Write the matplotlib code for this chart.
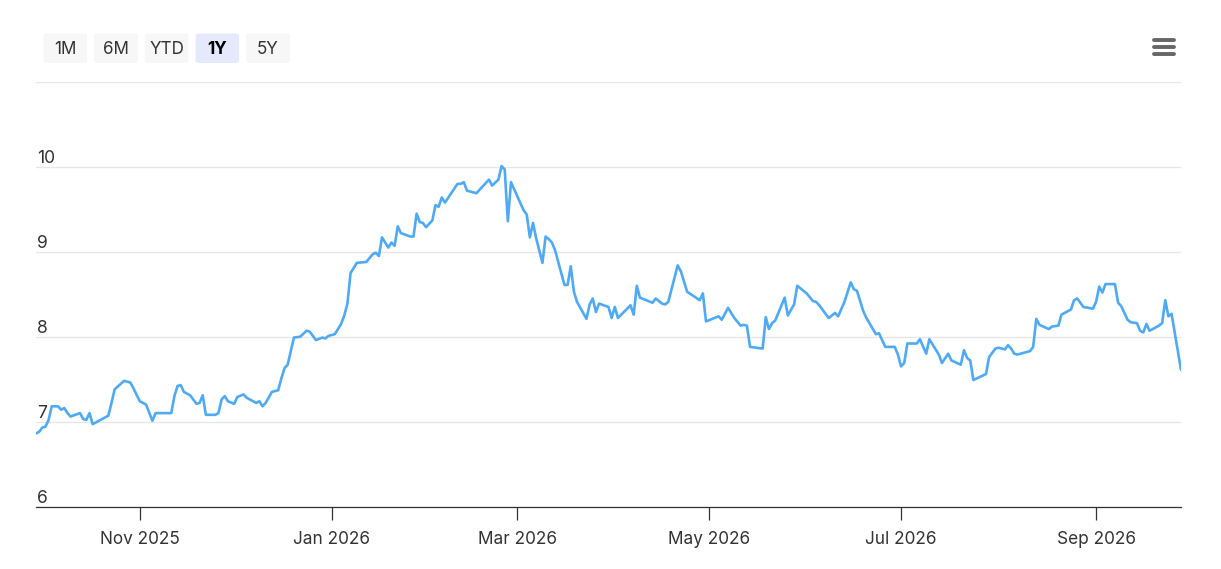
import matplotlib
matplotlib.use("Agg")
import matplotlib.pyplot as plt
import matplotlib.dates as mdates
import matplotlib.transforms as mtransforms
from matplotlib.patches import FancyBboxPatch
from matplotlib.lines import Line2D
import pandas as pd

# ---------------- data ----------------
dates = [
    "2025-09-29", "2025-09-30", "2025-10-01", "2025-10-02", "2025-10-03", "2025-10-04",
    "2025-10-06", "2025-10-07", "2025-10-08", "2025-10-09", "2025-10-10", "2025-10-13",
    "2025-10-14", "2025-10-15", "2025-10-16", "2025-10-17", "2025-10-22", "2025-10-23",
    "2025-10-24", "2025-10-27", "2025-10-29", "2025-10-30", "2025-11-01", "2025-11-03",
    "2025-11-05", "2025-11-06", "2025-11-11", "2025-11-12", "2025-11-13", "2025-11-14",
    "2025-11-15", "2025-11-17", "2025-11-19", "2025-11-20", "2025-11-21", "2025-11-22",
    "2025-11-25", "2025-11-26", "2025-11-27", "2025-11-28", "2025-11-29", "2025-12-01",
    "2025-12-02", "2025-12-04", "2025-12-05", "2025-12-08", "2025-12-09", "2025-12-10",
    "2025-12-11", "2025-12-13", "2025-12-15", "2025-12-16", "2025-12-17", "2025-12-18",
    "2025-12-20", "2025-12-22", "2025-12-24", "2025-12-25", "2025-12-27", "2025-12-29",
    "2025-12-30", "2025-12-31", "2026-01-02", "2026-01-04", "2026-01-05", "2026-01-06",
    "2026-01-07", "2026-01-09", "2026-01-12", "2026-01-14", "2026-01-15", "2026-01-16",
    "2026-01-17", "2026-01-19", "2026-01-20", "2026-01-21", "2026-01-22", "2026-01-23",
    "2026-01-26", "2026-01-27", "2026-01-28", "2026-01-29", "2026-01-30", "2026-01-31",
    "2026-02-02", "2026-02-03", "2026-02-04", "2026-02-05", "2026-02-06", "2026-02-10",
    "2026-02-11", "2026-02-12", "2026-02-13", "2026-02-16", "2026-02-20", "2026-02-21",
    "2026-02-23", "2026-02-24", "2026-02-25", "2026-02-26", "2026-02-27", "2026-03-03",
    "2026-03-04", "2026-03-05", "2026-03-06", "2026-03-07", "2026-03-09", "2026-03-10",
    "2026-03-11", "2026-03-12", "2026-03-13", "2026-03-16", "2026-03-17", "2026-03-18",
    "2026-03-19", "2026-03-20", "2026-03-23", "2026-03-24", "2026-03-25", "2026-03-26",
    "2026-03-27", "2026-03-30", "2026-03-31", "2026-04-01", "2026-04-02", "2026-04-06",
    "2026-04-07", "2026-04-08", "2026-04-09", "2026-04-13", "2026-04-14", "2026-04-16",
    "2026-04-17", "2026-04-18", "2026-04-21", "2026-04-22", "2026-04-24", "2026-04-28",
    "2026-04-29", "2026-04-30", "2026-05-04", "2026-05-05", "2026-05-07", "2026-05-09",
    "2026-05-11", "2026-05-12", "2026-05-13", "2026-05-14", "2026-05-18", "2026-05-19",
    "2026-05-20", "2026-05-21", "2026-05-22", "2026-05-25", "2026-05-26", "2026-05-28",
    "2026-05-29", "2026-06-01", "2026-06-03", "2026-06-04", "2026-06-05", "2026-06-08",
    "2026-06-10", "2026-06-11", "2026-06-13", "2026-06-15", "2026-06-16", "2026-06-17",
    "2026-06-19", "2026-06-20", "2026-06-23", "2026-06-24", "2026-06-26", "2026-06-29",
    "2026-06-30", "2026-07-01", "2026-07-02", "2026-07-03", "2026-07-06", "2026-07-07",
    "2026-07-09", "2026-07-10", "2026-07-13", "2026-07-14", "2026-07-16", "2026-07-17",
    "2026-07-20", "2026-07-21", "2026-07-22", "2026-07-23", "2026-07-24", "2026-07-28",
    "2026-07-29", "2026-07-31", "2026-08-01", "2026-08-03", "2026-08-04", "2026-08-05",
    "2026-08-06", "2026-08-07", "2026-08-11", "2026-08-12", "2026-08-13", "2026-08-14",
    "2026-08-17", "2026-08-18", "2026-08-20", "2026-08-21", "2026-08-24", "2026-08-25",
    "2026-08-26", "2026-08-28", "2026-08-31", "2026-09-01", "2026-09-02", "2026-09-03",
    "2026-09-04", "2026-09-07", "2026-09-08", "2026-09-09", "2026-09-11", "2026-09-12",
    "2026-09-14", "2026-09-15", "2026-09-16", "2026-09-17", "2026-09-18", "2026-09-21",
    "2026-09-22", "2026-09-23", "2026-09-24", "2026-09-25", "2026-09-28",
]

values = [
    6.86, 6.88, 6.93, 6.94, 7.02, 7.18,
    7.18, 7.14, 7.16, 7.10, 7.06, 7.10,
    7.03, 7.02, 7.10, 6.97, 7.07, 7.22,
    7.38, 7.48, 7.46, 7.39, 7.24, 7.20,
    7.01, 7.10, 7.10, 7.30, 7.42, 7.43,
    7.35, 7.31, 7.21, 7.22, 7.31, 7.08,
    7.08, 7.10, 7.26, 7.30, 7.24, 7.21,
    7.29, 7.32, 7.28, 7.22, 7.24, 7.18,
    7.22, 7.35, 7.37, 7.51, 7.63, 7.67,
    7.99, 8.00, 8.07, 8.06, 7.96, 7.99,
    7.98, 8.01, 8.03, 8.15, 8.25, 8.39,
    8.75, 8.87, 8.88, 8.97, 8.99, 8.95,
    9.17, 9.05, 9.11, 9.07, 9.30, 9.22,
    9.18, 9.18, 9.45, 9.35, 9.34, 9.29,
    9.37, 9.55, 9.53, 9.64, 9.58, 9.80,
    9.80, 9.82, 9.72, 9.69, 9.85, 9.78,
    9.85, 10.01, 9.97, 9.36, 9.82, 9.49,
    9.44, 9.17, 9.34, 9.16, 8.87, 9.18,
    9.15, 9.11, 9.02, 8.61, 8.61, 8.83,
    8.53, 8.41, 8.21, 8.38, 8.45, 8.29,
    8.39, 8.35, 8.22, 8.35, 8.22, 8.37,
    8.26, 8.60, 8.46, 8.40, 8.45, 8.39,
    8.38, 8.41, 8.84, 8.77, 8.53, 8.43,
    8.51, 8.18, 8.24, 8.20, 8.34, 8.22,
    8.13, 8.14, 8.13, 7.88, 7.86, 8.23,
    8.09, 8.16, 8.19, 8.46, 8.25, 8.38,
    8.60, 8.51, 8.42, 8.41, 8.37, 8.22,
    8.28, 8.24, 8.41, 8.64, 8.56, 8.54,
    8.30, 8.22, 8.03, 8.04, 7.88, 7.88,
    7.79, 7.65, 7.69, 7.92, 7.92, 7.97,
    7.80, 7.97, 7.79, 7.69, 7.80, 7.72,
    7.67, 7.84, 7.75, 7.72, 7.49, 7.56,
    7.76, 7.86, 7.87, 7.85, 7.90, 7.86,
    7.80, 7.79, 7.83, 7.88, 8.21, 8.14,
    8.09, 8.12, 8.13, 8.26, 8.32, 8.43,
    8.45, 8.35, 8.33, 8.41, 8.59, 8.52,
    8.62, 8.62, 8.40, 8.36, 8.20, 8.17,
    8.16, 8.07, 8.05, 8.15, 8.07, 8.13,
    8.16, 8.43, 8.24, 8.27, 7.61,
]

y_ticks = [6, 7, 8, 9, 10, 11]
y_tick_labels = ["6", "7", "8", "9", "10", ""]
x_tick_dates = ["2025-11-01", "2026-01-01", "2026-03-01", "2026-05-01", "2026-07-01", "2026-09-01"]
x_tick_labels = ["Nov 2025", "Jan 2026", "Mar 2026", "May 2026", "Jul 2026", "Sep 2026"]
range_buttons = ["1M", "6M", "YTD", "1Y", "5Y"]
selected_button = "1Y"

# ---------------- styling ----------------
plt.rcParams["font.family"] = ["Inter", "DejaVu Sans"]
LINE_COLOR = "#4faaf6"
GRID_COLOR = "#e6e6e6"
TEXT_COLOR = "#333333"

W, H = 1221, 569
DPI = 100
fig = plt.figure(figsize=(W / DPI, H / DPI), dpi=DPI)
fig.patch.set_facecolor("white")


def fx(px):
    return px / W


def fy(py):
    return 1 - py / H


left, right, top, bottom = 36, 1181, 82, 506.5
ax = fig.add_axes([fx(left), fy(bottom), fx(right - left), (bottom - top) / H])

x = pd.to_datetime(dates)
ax.plot(x, values, color=LINE_COLOR, lw=1.9, solid_joinstyle="round", solid_capstyle="round", zorder=3)

ax.set_xlim(x[0], x[-1])
ax.set_ylim(6, 11)

# grid
ax.set_yticks(y_ticks)
ax.yaxis.grid(True, color=GRID_COLOR, lw=0.9)
ax.tick_params(axis="y", length=0, labelleft=False)
ax.set_axisbelow(True)

# y labels above grid lines, left aligned
ytrans = mtransforms.offset_copy(ax.get_yaxis_transform(), fig=fig, x=1, y=3.5, units="dots")
for val, lab in zip(y_ticks, y_tick_labels):
    if lab:
        ax.text(0, val, lab, transform=ytrans, ha="left", va="baseline",
                fontsize=12.6, color=TEXT_COLOR)

# x axis
ax.set_xticks(pd.to_datetime(x_tick_dates))
ax.set_xticklabels(x_tick_labels)
ax.tick_params(axis="x", length=9, width=0.9, color=TEXT_COLOR, pad=8.5,
               labelsize=12.4, labelcolor=TEXT_COLOR)
for s in ["top", "left", "right"]:
    ax.spines[s].set_visible(False)
ax.spines["bottom"].set_color(TEXT_COLOR)
ax.spines["bottom"].set_linewidth(0.9)

# ---------------- range selector buttons ----------------
btn_left0, btn_w, btn_step = 43.5, 43.5, 50.7
btn_top, btn_h = 33.5, 29.5
for i, lab in enumerate(range_buttons):
    x0 = btn_left0 + i * btn_step
    sel = lab == selected_button
    face = "#e6e9fb" if sel else "#f7f7f7"
    patch = FancyBboxPatch((fx(x0), fy(btn_top + btn_h)), fx(btn_w), btn_h / H,
                           boxstyle="round,pad=0,rounding_size=0.003",
                           transform=fig.transFigure, facecolor=face, edgecolor="none")
    fig.patches.append(patch)
    fig.text(fx(x0 + btn_w / 2), fy(btn_top + btn_h / 2 + 1), lab, ha="center", va="center",
             fontsize=12.3, color="#000000" if sel else TEXT_COLOR,
             fontweight="bold" if sel else "normal")

# ---------------- hamburger menu icon ----------------
for yy in (39.5, 46.5, 53.5):
    fig.add_artist(Line2D([fx(1153.5), fx(1173.5)], [fy(yy), fy(yy)], transform=fig.transFigure,
                          color="#666666", lw=2.8, solid_capstyle="round"))

fig.savefig("out.png", dpi=DPI, facecolor="white")
